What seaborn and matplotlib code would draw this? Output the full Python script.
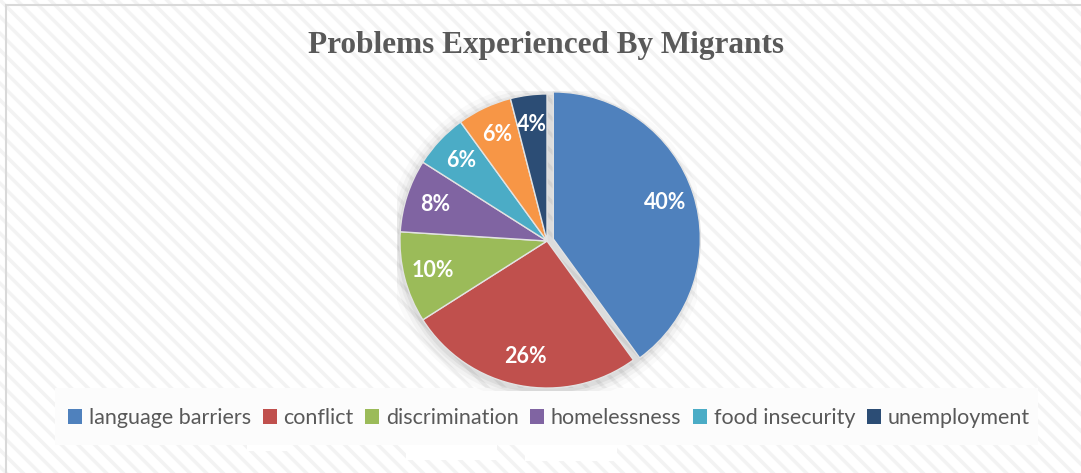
import numpy as np
import pandas as pd
import matplotlib
matplotlib.use("Agg")
import matplotlib.pyplot as plt
import seaborn as sns
from matplotlib.patches import Rectangle, Circle, Patch

# ---- data ----
categories = ["language barriers", "conflict", "discrimination", "homelessness",
              "food insecurity", "other", "unemployment"]
values = [40, 26, 10, 8, 6, 6, 4]
colors = ["#4F81BD", "#C0504D", "#9BBB59", "#8064A2", "#4BACC6", "#F79646", "#2C4D75"]
legend_categories = ["language barriers", "conflict", "discrimination", "homelessness",
                     "food insecurity", "unemployment"]
title = "Problems Experienced By Migrants"

sns.set_theme(style="white")
plt.rcParams["font.family"] = ["Lato", "DejaVu Sans"]
plt.rcParams["hatch.linewidth"] = 2.5
palette = sns.color_palette(colors)

W, H = 1081, 473
fig = plt.figure(figsize=(W / 100, H / 100), dpi=100)
fig.patch.set_facecolor("white")

# hatched background
bg = Rectangle((0, 0), 1, 1, transform=fig.transFigure, facecolor="white",
               edgecolor="#f3f3f3", hatch="\\\\", lw=0, zorder=-10)
fig.patches.append(bg)
# border (left + top visible)
border = Rectangle((6 / W, -0.05), 1.1, (H - 5) / H + 0.05, transform=fig.transFigure,
                   facecolor="none", edgecolor="#d9d9d9", lw=1.5, zorder=-9)
fig.patches.append(border)

# legend box and white patches
fig.patches.append(Rectangle((55 / W, (H - 445) / H), (1038 - 55) / W, 57 / H,
                             transform=fig.transFigure, facecolor="#fcfcfc", lw=0, zorder=-8))
for x0, x1, y1 in [(247, 291, 451), (406, 497, 460), (525, 617, 461)]:
    fig.patches.append(Rectangle((x0 / W, (H - y1) / H), (x1 - x0) / W, (y1 - 445) / H,
                                 transform=fig.transFigure, facecolor="white", lw=0, zorder=-8))

# pie axes
cx, cy, R = 547, 241, 150
ax = fig.add_axes([(cx - R) / W, (H - cy - R) / H, 2 * R / W, 2 * R / H])
for r, a in [(1.09, 0.02), (1.06, 0.03), (1.035, 0.04), (1.015, 0.05)]:
    ax.add_patch(Circle((0, -0.02), r, facecolor="black", alpha=a, lw=0, zorder=0))

explode = [0.045, 0, 0, 0, 0, 0, 0]
wedges, texts, autotexts = ax.pie(
    values, colors=palette, startangle=90, counterclock=False, explode=explode,
    autopct="%1.0f%%", pctdistance=0.8,
    wedgeprops=dict(edgecolor="#e3e3e3", linewidth=1),
    textprops=dict(color="white", fontweight="bold", fontsize=15.5))
ax.set_xlim(-1.02, 1.02)
ax.set_ylim(-1.02, 1.02)
ax.axis("off")

fig.text(546 / W, 1 - 45 / H, title, ha="center", va="center",
         family=["Liberation Serif"], fontweight="bold", fontsize=22.5, color="#595959")

handles = [Patch(facecolor=colors[categories.index(c)], edgecolor="none") for c in legend_categories]
fig.legend(handles, legend_categories, loc="center", bbox_to_anchor=(549 / W, 1 - 418 / H),
           ncol=6, frameon=False, fontsize=15.5, handlelength=0.65, handleheight=0.65,
           handletextpad=0.3, columnspacing=0.55, labelcolor="#595959")

fig.savefig("out.png", dpi=100)
